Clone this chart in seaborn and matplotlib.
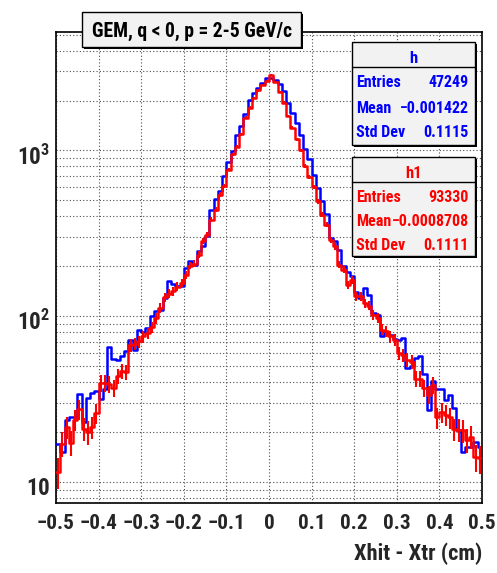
import numpy as np
import pandas as pd
import matplotlib
matplotlib.use("Agg")
import matplotlib.pyplot as plt
import seaborn as sns
from matplotlib import font_manager
from matplotlib.patches import Rectangle
from matplotlib.lines import Line2D
from matplotlib.transforms import Affine2D, ScaledTranslation
from matplotlib.ticker import FixedLocator, MultipleLocator, LogLocator, NullFormatter

# residual binning: 100 bins over [-0.5, 0.5] cm
x_lo, x_hi, n_bins = -0.5, 0.5, 100

# h : negative tracks, 2-5 GeV/c (blue)
h_counts = [
    17, 15.2, 23.5, 24.5, 24.5, 34, 23, 32, 34.5, 35.4,
    31.6, 36.5, 65.4, 55.2, 54.6, 57.5, 61.6, 72, 62.9, 83,
    80.5, 85, 100, 107, 109.5, 129, 162, 157, 153, 152,
    196, 216, 205, 246, 264, 306, 440, 506, 568, 700,
    846, 990, 1240, 1402, 1650, 2020, 2220, 2393, 2550, 2720,
    2750, 2650, 2505, 2285, 1943, 1690, 1470, 1232, 1014, 882,
    706, 595, 494, 416, 297, 283, 252, 200, 186, 174,
    140, 129, 148, 135, 105, 102, 75.5, 80, 77, 73,
    72, 74, 48.7, 50, 56, 57.5, 45, 27.3, 40.4, 36.4,
    36.4, 31.2, 33.6, 28, 20.5, 15.2, 16.2, 16.2, 17.5, 16.2,
]

# h1 : second sample, scaled to the entries of h (red, with errors)
h1_counts = [
    11.5, 17, 21.5, 17.3, 23.8, 27.5, 21, 20, 21.5, 26,
    39.5, 39.5, 39, 36.8, 43.5, 46.5, 46, 67, 68.4, 70.5,
    75.5, 79, 86, 97, 112, 130, 137, 141, 151, 159,
    178, 202, 207, 235, 283, 310, 383, 440, 542, 614,
    767, 946, 1053, 1250, 1576, 1812, 2080, 2300, 2470, 2640,
    2840, 2587, 2250, 1943, 1611, 1371, 1165, 1004, 804, 694,
    603, 494, 410, 357, 290, 264, 205, 191, 155, 166,
    132, 132, 120, 116, 102, 97.5, 83, 81, 75.5, 72,
    60, 58, 54.6, 53, 42, 41.8, 37, 33.6, 38.5, 24.5,
    26.5, 25.5, 24.5, 20.9, 20.7, 20.5, 18, 18.8, 14.1, 13.9,
]
h_entries, h1_entries = 47249, 93330

x_ticks = [-0.5, -0.4, -0.3, -0.2, -0.1, 0.0, 0.1, 0.2, 0.3, 0.4, 0.5]
x_tick_labels = ["\u22120.5", "\u22120.4", "\u22120.3", "\u22120.2", "\u22120.1", "0",
                 "0.1", "0.2", "0.3", "0.4", "0.5"]
y_ticks = [10, 100, 1000]
y_tick_labels = [r"$10$", r"$10^{2}$", r"$10^{3}$"]

title_text = "GEM, q < 0, p = 2-5 GeV/c"
x_title = "Xhit - Xtr (cm)"
stat_names = ["Entries", "Mean", "Std Dev"]
h_stats = ["47249", "\u22120.001422", "0.1115"]
h1_stats = ["93330", "\u22120.0008708", "0.1111"]

BLUE, RED = "#0000ff", "#ff0000"

sns.set_style("white")

# prefer a narrow sans face for the ROOT-like lettering
fonts = font_manager.fontManager.ttflist
names = {f.name for f in fonts}
font_stretch = "normal"
base_font = None
for cand in ["Liberation Sans Narrow", "Roboto Condensed", "Open Sans Condensed",
             "DejaVu Sans Condensed", "Noto Sans Condensed"]:
    if cand in names:
        base_font = cand
        break
if base_font is None:
    condensed = [f for f in fonts if f.name == "DejaVu Sans"
                 and str(f.stretch).lower() in ("condensed", "semi-condensed")]
    if condensed:
        base_font, font_stretch = "DejaVu Sans", "condensed"
    else:
        base_font = "Liberation Sans"
math_font = base_font if font_stretch == "normal" else "Liberation Sans"

plt.rcParams["font.family"] = [base_font, "DejaVu Sans"]
plt.rcParams["font.weight"] = "bold"
plt.rcParams["font.stretch"] = font_stretch
plt.rcParams["mathtext.fontset"] = "custom"
plt.rcParams["mathtext.rm"] = f"{math_font}:bold"
plt.rcParams["mathtext.it"] = f"{math_font}:bold"
plt.rcParams["mathtext.bf"] = f"{math_font}:bold"
plt.rcParams["axes.unicode_minus"] = True

W, H = 497, 573
fig = plt.figure(figsize=(W / 100, H / 100), dpi=100)
fig.patch.set_facecolor("white")
ax = fig.add_axes([56 / W, 1 - 503 / H, (482 - 56) / W, (503 - 32) / H])
# pixel coordinates with the origin at the top-left corner
pix = Affine2D().scale(1 / W, -1 / H).translate(0, 1) + fig.transFigure
renderer = fig.canvas.get_renderer()


def fitted_size(s, width_px):
    """Font size (pt) at which the bold string s spans width_px pixels."""
    probe = fig.text(0, 0, s, fontsize=20, fontweight="bold")
    w = probe.get_window_extent(renderer).width
    probe.remove()
    return 20 * width_px / w


tick_size = fitted_size("\u22120.5", 38)
ylab_size = fitted_size(r"$10$", 24)
xtitle_size = fitted_size(x_title, 128)
title_size = fitted_size(title_text, 200)
stat_size = fitted_size("Mean" + h1_stats[1], 112)
name_size = fitted_size("h1", 16.5)

edges = np.linspace(x_lo, x_hi, n_bins + 1)
centers = 0.5 * (edges[:-1] + edges[1:])
df = pd.DataFrame({
    "x": np.concatenate([centers, centers]),
    "w": np.concatenate([h_counts, h1_counts]),
    "sample": ["h"] * n_bins + ["h1"] * n_bins,
})

sns.histplot(data=df[df["sample"] == "h"], x="x", weights="w", bins=n_bins,
             binrange=(x_lo, x_hi), element="step", fill=False, color=BLUE,
             linewidth=1.8, ax=ax, zorder=3)
sns.histplot(data=df[df["sample"] == "h1"], x="x", weights="w", bins=n_bins,
             binrange=(x_lo, x_hi), element="step", fill=False, color=RED,
             linewidth=1.8, ax=ax, zorder=4)

h1_arr = np.asarray(h1_counts, dtype=float)
h1_err = np.sqrt(h1_arr * h_entries / h1_entries)
ax.errorbar(centers, h1_arr, yerr=h1_err, fmt="none", ecolor=RED,
            elinewidth=1.5, capsize=0, zorder=4)

ax.set_yscale("log")
ax.set_xlim(x_lo, x_hi)
ax.set_ylim(7.47, 5180)

ax.xaxis.set_major_locator(FixedLocator(x_ticks))
ax.xaxis.set_minor_locator(MultipleLocator(0.02))
ax.set_xticklabels(x_tick_labels, fontsize=tick_size, fontweight="bold")
ax.yaxis.set_major_locator(FixedLocator(y_ticks))
ax.yaxis.set_minor_locator(LogLocator(base=10, subs=range(2, 10)))
ax.yaxis.set_minor_formatter(NullFormatter())
ax.set_yticklabels(y_tick_labels, fontsize=ylab_size, fontweight="bold")

ax.tick_params(which="major", direction="in", length=12, width=1.0, color="black",
               top=False, right=False)
ax.tick_params(which="minor", direction="in", length=6, width=1.0, color="black",
               top=False, right=False)
ax.tick_params(axis="x", which="major", pad=8)
ax.tick_params(axis="y", which="major", pad=4)
# decade labels sit slightly below their tick marks
shift_down = ScaledTranslation(0, -4 / 100, fig.dpi_scale_trans)
for lab in ax.get_yticklabels():
    lab.set_transform(lab.get_transform() + shift_down)

grid_style = dict(linestyle=(0, (1, 2)), color="0.3", linewidth=0.8)
ax.grid(which="major", axis="x", **grid_style)
ax.grid(which="both", axis="y", **grid_style)
ax.set_axisbelow(True)
for sp in ax.spines.values():
    sp.set_color("black")
    sp.set_linewidth(1.2)

ax.set_ylabel("")
ax.set_xlabel(x_title, fontsize=xtitle_size, fontweight="bold", ha="right", va="center")
ax.xaxis.set_label_coords(1.0, -(554 - 503) / (503 - 32))


def framed_box(x0, y0, x1, y1, lw=1.0):
    shadow = Rectangle((x0 + 2, y0 + 2), x1 - x0, y1 - y0, transform=pix,
                       facecolor="black", edgecolor="black", linewidth=0, zorder=10)
    body = Rectangle((x0, y0), x1 - x0, y1 - y0, transform=pix,
                     facecolor="#f2f2f2", edgecolor="black", linewidth=lw, zorder=11)
    fig.add_artist(shadow)
    fig.add_artist(body)


# histogram title
framed_box(82, 12, 301, 47)
fig.text(192, 36.5, title_text, transform=pix, ha="center", va="baseline",
         fontsize=title_size, fontweight="bold", color="black", zorder=12)


def stats_panel(top, divider, bottom, name, name_base, row_bases, values, color):
    framed_box(352, top, 475, bottom)
    fig.add_artist(Line2D([352, 475], [divider, divider], transform=pix,
                          color="black", linewidth=1.0, zorder=12))
    fig.text(413.5, name_base, name, transform=pix, ha="center", va="baseline",
             fontsize=name_size, fontweight="bold", color=color, zorder=12)
    for label, value, yb in zip(stat_names, values, row_bases):
        fig.text(356, yb, label, transform=pix, ha="left", va="baseline",
                 fontsize=stat_size, fontweight="bold", color=color, zorder=12)
        fig.text(469, yb, value, transform=pix, ha="right", va="baseline",
                 fontsize=stat_size, fontweight="bold", color=color, zorder=12)


stats_panel(42, 67, 145, "h", 63, [87, 113, 137], h_stats, BLUE)
stats_panel(157, 182, 256, "h1", 178, [202, 226, 250], h1_stats, RED)

fig.savefig("out.png", dpi=100)
